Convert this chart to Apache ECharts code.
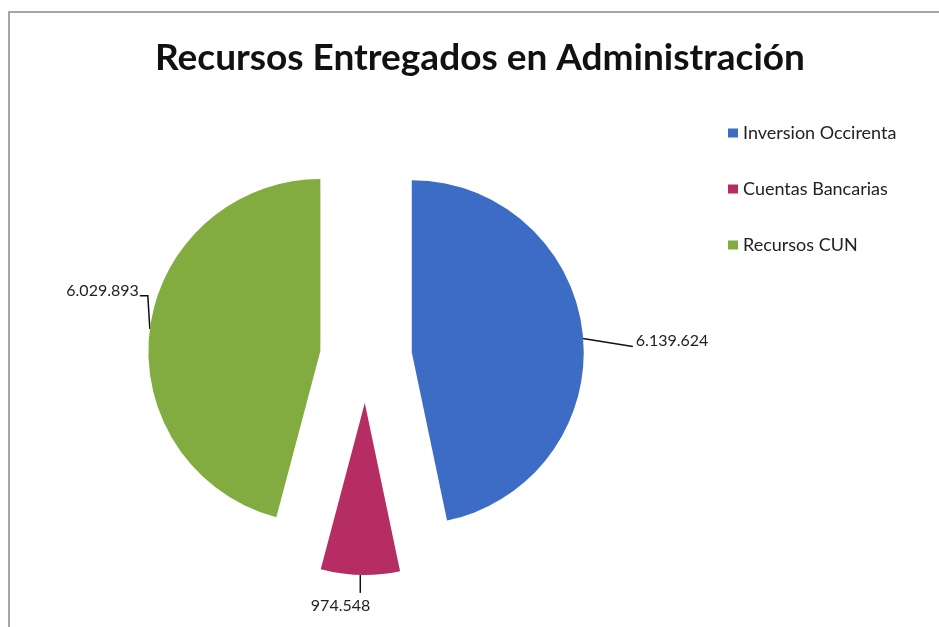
<!DOCTYPE html>
<html>
<head>
<meta charset="utf-8">
<script src="https://cdn.jsdelivr.net/npm/echarts@6/dist/echarts.min.js"></script>
<style>
  html, body { margin: 0; padding: 0; background: #fff; }
  #chart { width: 939px; height: 627px; }
</style>
</head>
<body>
<div id="chart"></div>
<script>
const categories = ['Inversion Occirenta', 'Cuentas Bancarias', 'Recursos CUN']
const values = [6139624, 974548, 6029893]
const colors = ['#3d6cc4', '#b52d63', '#82ac3f']

const explode = 46
const pieCenter = [366, 357]
const pieRadius = 172

// 6139624 -> 6.139.624
function fmt(v) {
  return String(v).replace(/\B(?=(\d{3})+(?!\d))/g, '.')
}

const chart = echarts.init(document.getElementById('chart'))

// label lines start at the edge of the exploded slice
function labelLayout(params) {
  const pts = params.labelLinePoints
  if (!pts) return {}
  const a = pts[0]
  const b = pts[1]
  const len = Math.hypot(b[0] - a[0], b[1] - a[1]) || 1
  const dir = [(b[0] - a[0]) / len, (b[1] - a[1]) / len]
  const p0 = [a[0] + dir[0] * explode, a[1] + dir[1] * explode]

  if (params.dataIndex === 1) {
    const p1 = [p0[0], p0[1] + 18]
    return {
      x: p1[0] + 10,
      y: p1[1] + 13,
      align: 'right',
      verticalAlign: 'middle',
      labelLinePoints: [p0, p1, p1]
    }
  }
  if (params.dataIndex === 2) {
    const p1 = [p0[0] - 2, p0[1] - 33]
    const p2 = [p1[0] - 8, p1[1]]
    return {
      x: p2[0] - 1,
      y: p2[1] - 5,
      align: 'right',
      verticalAlign: 'middle',
      labelLinePoints: [p0, p1, p2]
    }
  }
  const p1 = [p0[0] + 50, p0[1] + 12]
  return {
    x: p1[0] + 3,
    y: p1[1] - 6,
    align: 'left',
    verticalAlign: 'middle',
    labelLinePoints: [[p0[0], p0[1] + 4], p1, p1]
  }
}

const option = {
  backgroundColor: '#fff',
  animation: false,
  title: {
    text: 'Recursos Entregados en Administración',
    left: 475,
    top: 35,
    textAlign: 'center',
    textStyle: {
      fontFamily: 'Lato',
      fontWeight: 'bold',
      fontSize: 37,
      color: '#111'
    }
  },
  legend: {
    orient: 'vertical',
    left: 723,
    top: 119,
    itemWidth: 10,
    itemHeight: 9,
    itemGap: 38,
    icon: 'rect',
    selectedMode: false,
    textStyle: {
      fontFamily: 'Lato',
      fontSize: 18,
      color: '#222'
    },
    data: categories
  },
  graphic: [
    {
      type: 'rect',
      shape: { x: 9, y: 12, width: 960, height: 660 },
      style: { fill: 'none', stroke: '#a4a4b4', lineWidth: 2 },
      silent: true
    }
  ],
  series: [
    {
      // the exploded slices
      type: 'pie',
      center: pieCenter,
      radius: pieRadius,
      startAngle: 90,
      selectedMode: 'multiple',
      selectedOffset: explode,
      emphasis: { disabled: true },
      label: { show: false },
      labelLine: { show: false },
      data: categories.map((name, i) => ({
        name,
        value: values[i],
        selected: true,
        itemStyle: { color: colors[i] }
      }))
    },
    {
      // invisible copy that carries the value labels
      type: 'pie',
      center: pieCenter,
      radius: pieRadius,
      startAngle: 90,
      silent: true,
      avoidLabelOverlap: false,
      emphasis: { disabled: true },
      itemStyle: { color: 'rgba(0,0,0,0)' },
      label: {
        show: true,
        position: 'outside',
        formatter: (p) => fmt(p.value),
        fontFamily: 'Lato',
        fontSize: 16,
        color: '#222'
      },
      labelLine: {
        show: true,
        length: 10,
        length2: 10,
        lineStyle: { color: '#111', width: 1.5 }
      },
      labelLayout,
      data: categories.map((name, i) => ({ name, value: values[i] }))
    }
  ]
}

chart.setOption(option)
</script>
</body>
</html>
